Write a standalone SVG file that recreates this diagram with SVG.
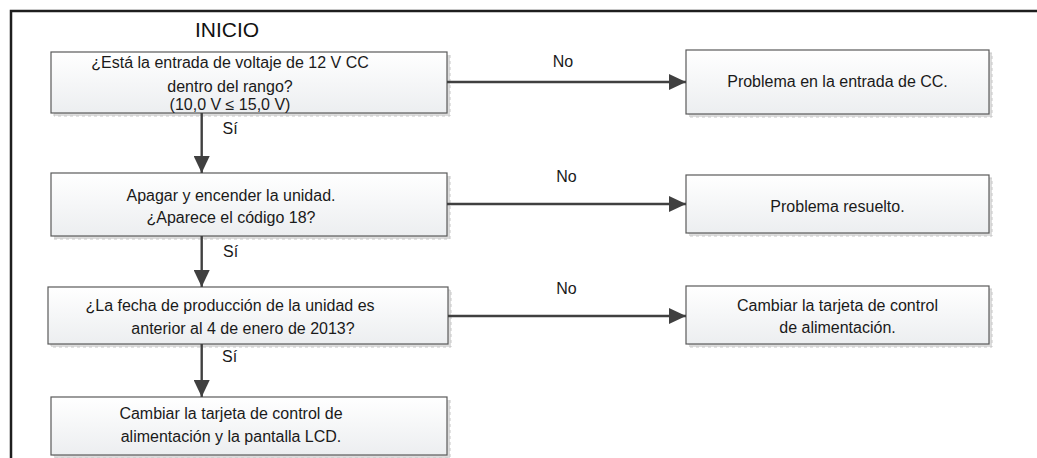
<svg xmlns="http://www.w3.org/2000/svg" width="1037" height="458" viewBox="0 0 1037 458">
<defs>
<linearGradient id="bg" x1="0" y1="0" x2="0" y2="1">
<stop offset="0" stop-color="#ffffff"/>
<stop offset="1" stop-color="#eceef0"/>
</linearGradient>
<marker id="ah" viewBox="0 0 17 16" refX="17" refY="8" markerWidth="17" markerHeight="16" markerUnits="userSpaceOnUse" orient="auto">
<path d="M0,0 L17,8 L0,16 Z" fill="#404040"/>
</marker>
<style>
.box{fill:url(#bg);stroke:#5a5a5a;stroke-width:1.2}
.sh{fill:#dcdcdc;stroke:#c8c8c8;stroke-width:1;stroke-dasharray:3 3}
.t{font-family:"Liberation Sans",Arial,sans-serif;font-size:16px;fill:#1a1a1a;text-anchor:middle}
.lbl{font-family:"Liberation Sans",Arial,sans-serif;font-size:16px;fill:#1a1a1a}
.c{stroke:#404040;stroke-width:2.4;fill:none;marker-end:url(#ah)}
.frame{stroke:#1e1e1e;stroke-width:2.5;fill:none}
</style>
</defs>
<rect width="1037" height="458" fill="#ffffff"/>
<path class="frame" d="M11,458 L11,11 L1037,11"/>
<text x="227" y="37" style="font-family:'Liberation Sans',Arial,sans-serif;font-size:21px;fill:#111;text-anchor:middle">INICIO</text>

<g id="n1">
<rect class="sh" x="54" y="55" width="396" height="61"/>
<rect class="box" x="51" y="52" width="396" height="61"/>
<text class="t" x="230" y="68">¿Está la entrada de voltaje de 12 V CC</text>
<text class="t" x="230" y="92">dentro del rango?</text>
<text class="t" x="230" y="110">(10,0 V ≤ 15,0 V)</text>
</g>
<g id="n2">
<rect class="sh" x="689" y="53" width="303" height="64"/>
<rect class="box" x="686" y="50" width="303" height="64"/>
<text class="t" x="837.5" y="87">Problema en la entrada de CC.</text>
</g>
<g id="n3">
<rect class="sh" x="54" y="176" width="396" height="63"/>
<rect class="box" x="51" y="173" width="396" height="63"/>
<text class="t" x="231" y="201">Apagar y encender la unidad.</text>
<text class="t" x="231" y="223">¿Aparece el código 18?</text>
</g>
<g id="n4">
<rect class="sh" x="689" y="178" width="303" height="58"/>
<rect class="box" x="686" y="175" width="303" height="58"/>
<text class="t" x="837.5" y="212">Problema resuelto.</text>
</g>
<g id="n5">
<rect class="sh" x="51" y="290" width="400" height="57"/>
<rect class="box" x="48" y="287" width="400" height="57"/>
<text class="t" x="230" y="311">¿La fecha de producción de la unidad es</text>
<text class="t" x="243" y="334">anterior al 4 de enero de 2013?</text>
</g>
<g id="n6">
<rect class="sh" x="689" y="289" width="303" height="58"/>
<rect class="box" x="686" y="286" width="303" height="58"/>
<text class="t" x="837.5" y="311">Cambiar la tarjeta de control</text>
<text class="t" x="837.5" y="333">de alimentación.</text>
</g>
<g id="n7">
<rect class="sh" x="54" y="400" width="396" height="58"/>
<rect class="box" x="51" y="397" width="396" height="58"/>
<text class="t" x="231" y="419">Cambiar la tarjeta de control de</text>
<text class="t" x="231" y="442">alimentación y la pantalla LCD.</text>
</g>

<g id="connectors">
<line class="c" x1="447" y1="82" x2="686" y2="82"/>
<line class="c" x1="447" y1="204" x2="686" y2="204"/>
<line class="c" x1="448" y1="316" x2="686" y2="316"/>
<line class="c" x1="201.7" y1="113" x2="201.7" y2="173"/>
<line class="c" x1="201.7" y1="236" x2="201.7" y2="287"/>
<line class="c" x1="201.7" y1="344" x2="201.7" y2="397"/>
<text class="lbl" x="563" y="67" text-anchor="middle">No</text>
<text class="lbl" x="566.5" y="182" text-anchor="middle">No</text>
<text class="lbl" x="566.5" y="294" text-anchor="middle">No</text>
<text class="lbl" x="222.5" y="134">Sí</text>
<text class="lbl" x="223" y="257">Sí</text>
<text class="lbl" x="222" y="362">Sí</text>
</g>
</svg>
